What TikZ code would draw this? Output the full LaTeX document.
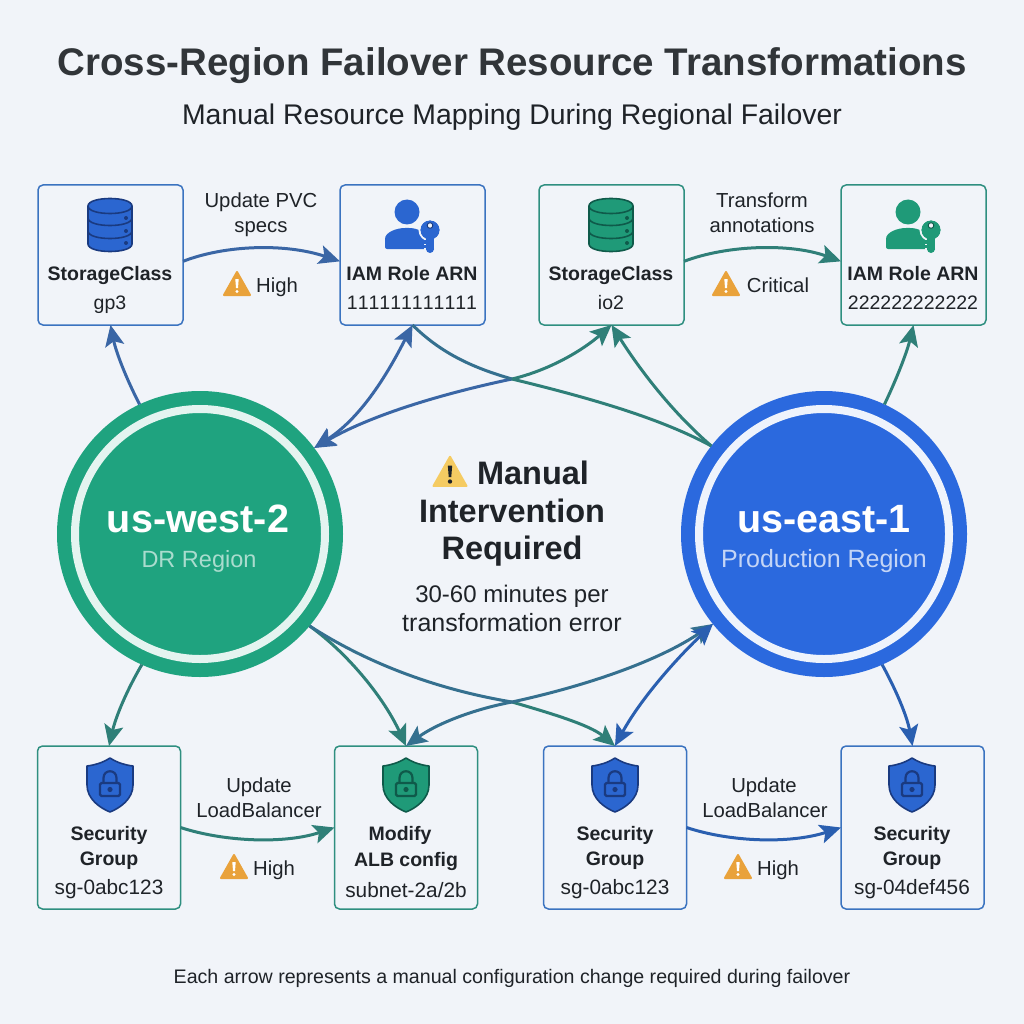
\documentclass[tikz,border=0pt]{standalone}
\usepackage{fontspec}
\setmainfont{Liberation Sans}
\usetikzlibrary{arrows.meta}
\definecolor{bgc}{HTML}{F1F4F9}
\definecolor{ink}{HTML}{1F2328}
\definecolor{gr}{HTML}{1FA37F}
\definecolor{bl}{HTML}{2B69DE}
\definecolor{lnblue}{HTML}{3A66A5}
\definecolor{lnteal}{HTML}{2F7F78}
\definecolor{lnmix}{HTML}{35708F}
\definecolor{lndeep}{HTML}{2A5FB0}
\definecolor{bxblue}{HTML}{3B73C0}
\definecolor{bxteal}{HTML}{2F8F80}
\definecolor{ico}{HTML}{2B66D0}
\definecolor{icod}{HTML}{1A3A80}
\definecolor{icg}{HTML}{1F9A78}
\definecolor{icgd}{HTML}{0F5A4A}
\definecolor{orng}{HTML}{E9A23B}
\definecolor{yel}{HTML}{F5CB62}
\newcommand{\fs}[1]{\fontsize{#1}{#1}\selectfont}
\tikzset{
  x=1pt,y=-1pt,
  head/.tip={Stealth[length=21pt,width=19pt,inset=4.5pt]},
  box/.style={draw=#1,line width=1.5pt,rounded corners=5pt,minimum width=145pt,minimum height=140pt,inner sep=0,outer sep=0},
  tbox/.style={box=#1,minimum height=163pt,minimum width=143pt},
  region/.style={circle,fill=#1,minimum size=286pt,inner sep=0,outer sep=0},
  tx/.style={anchor=base,inner sep=0,outer sep=0,text=ink},
  ttl/.style={tx,font=\bfseries\fs{19.5}},
  sub/.style={tx,font=\fs{19.5}},
  subb/.style={tx,font=\fs{20.8}},
  lbl/.style={tx,font=\fs{20.3}},
  link/.style={draw=#1,line width=3pt,-head},
  both/.style={draw=#1,line width=3pt,head-head},
  back/.style={draw=#1,line width=3pt,head-},
  plain/.style={draw=#1,line width=3pt},
  pics/dbicon/.style 2 args={code={
    \draw[fill=#1,draw=#2,line width=1.6pt] (-22,-19) -- (-22,19) .. controls (-22,29) and (22,29) .. (22,19) -- (22,-19) .. controls (22,-29) and (-22,-29) .. (-22,-19) -- cycle;
    \draw[draw=#2,line width=1.6pt] (-22,-19) .. controls (-22,-9) and (22,-9) .. (22,-19);
    \draw[draw=#2,line width=1.6pt] (-22,-7) .. controls (-22,3) and (22,3) .. (22,-7);
    \draw[draw=#2,line width=1.6pt] (-22,6) .. controls (-22,16) and (22,16) .. (22,6);
    \fill[#2] (16,-7) circle (2) (16,6) circle (2) (16,18) circle (2);
  }},
  pics/usericon/.style 2 args={code={
    \fill[#1] (-5,-13) circle (12.5);
    \fill[#1,rounded corners=2pt] (-27,24) -- (-27,16) .. controls (-27,7) and (-15,3) .. (-5,3) .. controls (5,3) and (12,7) .. (16,12) -- (16,24) -- cycle;
    \draw[bgc,line width=2pt,fill=#1] (18,5) circle (10.5);
    \draw[bgc,line width=2pt,fill=#1] (12.5,12) rectangle (23,26);
    \fill[#1] (18,5) circle (9.5);
    \fill[#1] (14,10) rectangle (22,24);
    \fill[#1] (18,24) circle (4);
    \fill[#1] (11.5,15) rectangle (15,18.5);
    \fill[#1] (11.5,20) rectangle (15,23);
    \draw[fill=bgc,draw=#2,line width=.9pt] (18,0.5) circle (2.8);
  }},
  pics/shieldicon/.style 2 args={code={
    \draw[fill=#1,draw=#2,line width=1.6pt,line join=round] (0,-27) .. controls (8,-22) and (15,-20) .. (23,-19) -- (23,0) .. controls (23,14) and (10,23) .. (0,27) .. controls (-10,23) and (-23,14) .. (-23,0) -- (-23,-19) .. controls (-15,-20) and (-8,-22) .. cycle;
    \draw[draw=#2,line width=2.2pt,rounded corners=1.5pt] (-10,-2) rectangle (10,11);
    \draw[draw=#2,line width=2.2pt] (-6.5,-2) -- (-6.5,-7) .. controls (-6.5,-16) and (6.5,-16) .. (6.5,-7) -- (6.5,-2);
    \fill[#2] (0,4.5) circle (2.6);
  }},
  pics/warnicon/.style 2 args={code={
    \draw[fill=#1,draw=#1,line width=2pt,line join=round] (0,-12) -- (13,11) -- (-13,11) -- cycle;
    \fill[#2] (-1.7,-5) -- (1.7,-5) -- (1,4) -- (-1,4) -- cycle;
    \fill[#2] (0,7.5) circle (1.7);
  }},
}
\begin{document}
\begin{tikzpicture}
\useasboundingbox (0,0) rectangle (1024,1024);
\fill[bgc] (0,0) rectangle (1024,1024);
% title
\node[tx,font=\bfseries\fs{38.5},text=ink!92!white] (title) at (512,76) {Cross-Region Failover Resource Transformations};
\node[tx,font=\fs{28.4}] (subtitle) at (512,125) {Manual Resource Mapping During Regional Failover};
% regions
\node[region=gr] (west) at (200,534) {};
\node[region=bl] (east) at (824,534) {};
\draw[white!88!gr,line width=8pt] (west.center) circle (125);
\draw[white!92!bl,line width=8pt] (east.center) circle (125);
\node[tx,font=\bfseries\fs{39.5},text=white] (westname) at (198,532) {us-west-2};
\node[tx,font=\fs{23.5},text=white!62!gr] (westrole) at (199,567) {DR Region};
\node[tx,font=\bfseries\fs{39.5},text=white] (eastname) at (824,532) {us-east-1};
\node[tx,font=\fs{25},text=white!72!bl] (eastrole) at (824,567) {Production Region};
% boxes
\node[box=bxblue] (A) at (110.5,255) {};
\node[box=bxblue] (B) at (412.5,255) {};
\node[box=bxteal] (C) at (611.5,255) {};
\node[box=bxteal] (D) at (913.5,255) {};
\node[tbox=bxteal] (E) at (109,827.5) {};
\node[tbox=bxteal] (F) at (406,827.5) {};
\node[tbox=bxblue] (G) at (615,827.5) {};
\node[tbox=bxblue] (H) at (912.5,827.5) {};
% icons
\pic at (110,225) {dbicon={ico}{icod}};
\pic at (611,225) {dbicon={icg}{icgd}};
\pic at (412,225) {usericon={ico}{icod}};
\pic at (913,225) {usericon={icg}{icgd}};
\pic at (110,785) {shieldicon={ico}{icod}};
\pic at (406,785) {shieldicon={icg}{icgd}};
\pic at (615,785) {shieldicon={ico}{icod}};
\pic at (912,785) {shieldicon={ico}{icod}};
\pic at (237,284) {warnicon={orng}{white}};
\pic at (726,284) {warnicon={orng}{white}};
\pic at (234,867) {warnicon={orng}{white}};
\pic at (738,867) {warnicon={orng}{white}};
\pic[scale=1.27] at (450,472) {warnicon={yel}{ink}};
% box text
\node[ttl] (t1) at (110,280) {StorageClass};
\node[sub] (s1) at (110,309) {gp3};
\node[ttl] (t2) at (412,280) {IAM Role ARN};
\node[sub] (s2) at (412,309) {\addfontfeature{Kerning=Off}111111111111};
\node[ttl] (t3) at (611,280) {StorageClass};
\node[sub] (s3) at (611,309) {io2};
\node[ttl] (t4) at (913,280) {IAM Role ARN};
\node[sub] (s4) at (913,309) {222222222222};
\node[ttl] (t5a) at (109,840) {Security};
\node[ttl] (t5b) at (109,865) {Group};
\node[subb] (s5) at (109,894) {sg-0abc123};
\node[ttl] (t6a) at (400,840) {Modify};
\node[ttl] (t6b) at (406,866) {ALB config};
\node[subb] (s6) at (406,897) {subnet-2a/2b};
\node[ttl] (t7a) at (615,840) {Security};
\node[ttl] (t7b) at (615,865) {Group};
\node[subb] (s7) at (615,894) {sg-0abc123};
\node[ttl] (t8a) at (912,840) {Security};
\node[ttl] (t8b) at (912,865) {Group};
\node[subb] (s8) at (912,894) {sg-04def456};
% edge labels
\node[lbl] (l1a) at (261,208) {Update PVC};
\node[lbl] (l1b) at (261,233) {specs};
\node[lbl] (l1c) at (277,292) {High};
\node[lbl] (l2a) at (762,208) {Transform};
\node[lbl] (l2b) at (762,233) {annotations};
\node[lbl] (l2c) at (778,292) {Critical};
\node[lbl] (l3a) at (259,792) {Update};
\node[lbl] (l3b) at (259,817) {LoadBalancer};
\node[lbl] (l3c) at (274,875) {High};
\node[lbl] (l4a) at (764,792) {Update};
\node[lbl] (l4b) at (765,817) {LoadBalancer};
\node[lbl] (l4c) at (778,875) {High};
% centre
\node[tx,font=\bfseries\fs{32.5}] (m1) at (533,484) {Manual};
\node[tx,font=\bfseries\fs{32.5}] (m2) at (512,522) {Intervention};
\node[tx,font=\bfseries\fs{32.5}] (m3) at (512,559) {Required};
\node[tx,font=\fs{24}] (m4) at (512,602) {30-60 minutes per};
\node[tx,font=\fs{25}] (m5) at (512,631) {transformation error};
\node[tx,font=\fs{19.6}] (foot) at (512,983) {Each arrow represents a manual configuration change required during failover};
% connectors
\coordinate (top) at (512,379);
\coordinate (low) at (512,702);
\draw[link=lnblue] (A.-5.5) .. controls (225,245) and (285,243) .. (B.185.5);
\draw[link=lnteal] (C.-5.5) .. controls (727,245) and (790,243) .. (D.185.5);
\draw[link=lnteal] (E.east) .. controls (225,842) and (285,844) .. (F.west);
\draw[link=lndeep] (G.east) .. controls (730,842) and (790,844) .. (H.west);
\draw[link=lnblue] (west.115) .. controls (126,378) and (116,352) .. (A.south);
\draw[link=lnteal] (east.65) .. controls (897,378) and (907,352) .. (D.south);
\draw[link=lnteal] (west.-114) .. controls (127,690) and (116,716) .. (E.north);
\draw[link=lndeep] (east.-66) .. controls (896,690) and (907,716) .. (H.north);
\draw[both=lnblue] (west.37) .. controls (365,415) and (392,365) .. (B.south);
\draw[back=lnblue] (west.37) .. controls (375,413) and (450,392) .. (top);
\draw[link=lnteal] (top) .. controls (550,370) and (583,350) .. (C.south);
\draw[plain=lnmix] (B.south) .. controls (440,352) and (470,367) .. (top);
\draw[plain=lnteal] (top) .. controls (590,398) and (660,418) .. (east.142.5);
\draw[link=lnteal] (east.142.5) .. controls (672,412) and (640,370) .. (C.south);
\draw[link=lnteal] (west.-40) .. controls (350,655) and (385,700) .. (F.north);
\draw[plain=lnmix] (west.-40) .. controls (370,665) and (440,690) .. (low);
\draw[link=lnteal] (low) .. controls (550,713) and (590,725) .. (G.north);
\draw[link=lnmix] (low) .. controls (590,685) and (660,660) .. (east.-141);
\draw[link=lnmix] (low) .. controls (470,710) and (435,725) .. (F.north);
\draw[both=lndeep] (G.north) .. controls (640,700) and (675,660) .. (east.-141);
\end{tikzpicture}
\end{document}
